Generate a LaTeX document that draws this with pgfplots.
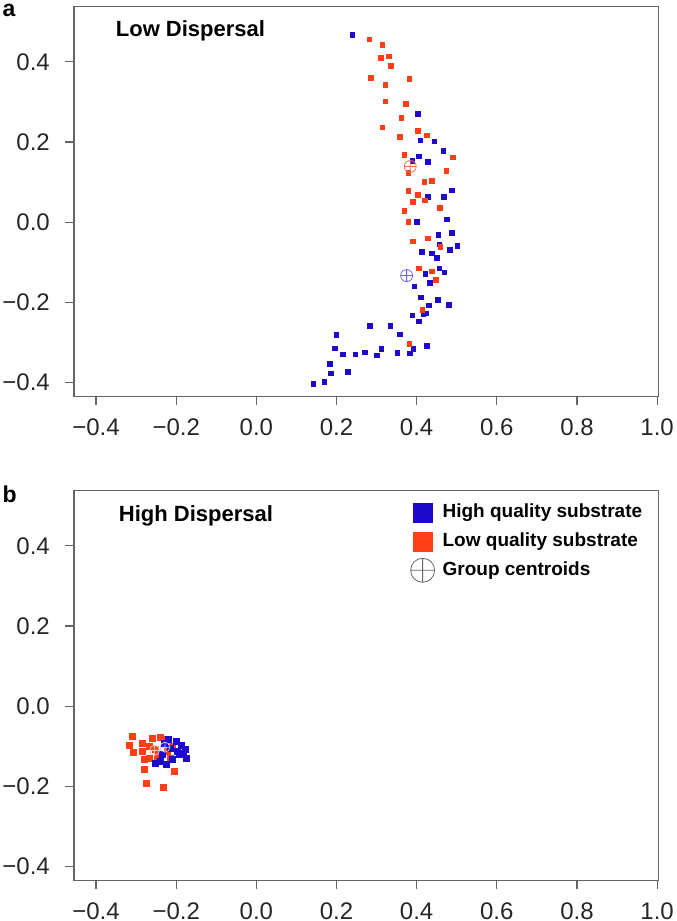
\documentclass[border=0pt]{standalone}
\usepackage{pgfplots}
\pgfplotsset{compat=1.18}
\usepackage{fontspec}
\setmainfont{Liberation Sans}
\definecolor{ptblue}{RGB}{30,10,205}
\definecolor{ptred}{RGB}{255,62,22}
\definecolor{cblue}{RGB}{110,100,235}
\definecolor{cred}{RGB}{255,105,85}
\definecolor{framegray}{RGB}{100,100,100}
\pgfplotsset{
  panel/.style={
    anchor=south west, scale only axis, width=584.3pt, height=390pt,
    xmin=-0.455, xmax=1.003, ymin=-0.435, ymax=0.5375,
    axis line style={draw=framegray, line width=1.3pt},
    tick style={draw=framegray, line width=1.2pt},
    tick align=outside, major tick length=8.5pt,
    xtick pos=bottom, ytick pos=left,
    xtick={-0.4,-0.2,0,0.2,0.4,0.6,0.8,1.0},
    xticklabels={−0.4,−0.2,0.0,0.2,0.4,0.6,0.8,1.0},
    ytick={-0.4,-0.2,0,0.2,0.4},
    yticklabels={−0.4,−0.2,0.0,0.2,0.4},
    tick label style={font=\fontsize{24}{28}\selectfont, text=black!85},
    yticklabel style={inner sep=0pt, xshift=-15.5pt},
    xticklabel style={inner sep=0pt, yshift=-13.5pt},
    clip=false,
  },
  hq/.style={only marks, mark=square*, draw=ptblue, fill=ptblue},
  lq/.style={only marks, mark=square*, draw=ptred, fill=ptred},
}
\begin{document}
\begin{tikzpicture}
\useasboundingbox (0pt,0pt) rectangle (677pt,921pt);
% ---------------- panel a ----------------
\begin{axis}[panel, at={(74pt,524.3pt)}]
\addplot[hq, mark size=2.3pt] coordinates {
(0.239,0.467) (0.403,0.271) (0.409,0.205) (0.444,0.202) (0.466,0.179)
(0.405,0.165) (0.389,0.154) (0.428,0.151) (0.488,0.080) (0.468,0.063)
(0.428,0.063) (0.400,0.002) (0.475,0.008) (0.488,-0.026) (0.454,-0.031)
(0.501,-0.059) (0.456,-0.055) (0.412,-0.073) (0.438,-0.077) (0.450,-0.089)
(0.482,-0.069) (0.456,-0.115) (0.469,-0.125) (0.421,-0.129) (0.433,-0.151)
(0.394,-0.159) (0.410,-0.187) (0.452,-0.193) (0.480,-0.206) (0.430,-0.207)
(0.389,-0.232) (0.416,-0.229) (0.424,-0.227) (0.405,-0.247) (0.334,-0.258)
(0.283,-0.258) (0.358,-0.279) (0.199,-0.280) (0.425,-0.308) (0.391,-0.315)
(0.312,-0.315) (0.196,-0.314) (0.383,-0.327) (0.351,-0.326) (0.301,-0.332)
(0.271,-0.324) (0.247,-0.329) (0.215,-0.329) (0.183,-0.353) (0.186,-0.376)
(0.228,-0.373) (0.169,-0.398) (0.142,-0.402)
};
\addplot[lq, mark size=2.3pt] coordinates {
(0.282,0.456) (0.314,0.443) (0.310,0.410) (0.331,0.414) (0.335,0.391)
(0.285,0.360) (0.381,0.358) (0.322,0.343) (0.322,0.302) (0.373,0.296)
(0.361,0.261) (0.314,0.237) (0.403,0.229) (0.358,0.213) (0.425,0.217)
(0.369,0.168) (0.490,0.162) (0.474,0.128) (0.379,0.124) (0.419,0.101)
(0.438,0.103) (0.379,0.079) (0.403,0.068) (0.420,0.055) (0.390,0.051)
(0.457,0.037) (0.369,0.029) (0.379,0.002) (0.390,-0.047) (0.428,-0.040)
(0.459,-0.061) (0.405,-0.115) (0.438,-0.122) (0.448,-0.144) (0.414,-0.218)
(0.381,-0.303)
};
\addplot[only marks, mark=oplus, mark size=6pt, draw=cred, line width=0.8pt] coordinates {(0.384,0.139)};
\addplot[only marks, mark=oplus, mark size=6pt, draw=cblue, line width=0.8pt] coordinates {(0.375,-0.133)};
\end{axis}
% ---------------- panel b ----------------
\begin{axis}[panel, at={(74pt,40.3pt)},
  legend style={at={(axis cs:0.377,0.519)}, anchor=north west, draw=none, fill=none,
    font=\bfseries\fontsize{19}{22}\selectfont, row sep=5pt,
    nodes={inner sep=1pt, text height=14pt, text depth=4pt}},
  legend cell align=left,
  legend image code/.code={\draw[#1] plot coordinates {(0pt,0pt)}; \path[draw=none, fill=none] (0pt,-12pt) -- (0pt,12pt) (19pt,0pt);}]
\addlegendimage{only marks, mark=square*, mark size=9.5pt, draw=ptblue, fill=ptblue}
\addlegendentry{High quality substrate}
\addlegendimage{only marks, mark=square*, mark size=9.5pt, draw=ptred, fill=ptred}
\addlegendentry{Low quality substrate}
\addlegendimage{only marks, mark=oplus, mark size=12pt, draw=black!60, line width=0.8pt}
\addlegendentry{Group centroids}
\addplot[lq, mark size=3pt, forget plot] coordinates {
(-0.310,-0.075) (-0.317,-0.096) (-0.307,-0.115) (-0.284,-0.091) (-0.284,-0.112)
(-0.279,-0.133) (-0.261,-0.079) (-0.239,-0.076) (-0.230,-0.083) (-0.268,-0.129)
(-0.280,-0.158) (-0.276,-0.191) (-0.233,-0.201) (-0.205,-0.162) (-0.214,-0.129)
(-0.222,-0.112) (-0.252,-0.108) (-0.268,-0.100) (-0.247,-0.125) (-0.211,-0.100)
};
\addplot[hq, mark size=3pt, forget plot] coordinates {
(-0.230,-0.091) (-0.214,-0.104) (-0.200,-0.087) (-0.187,-0.096) (-0.177,-0.108)
(-0.175,-0.129) (-0.193,-0.120) (-0.209,-0.133) (-0.225,-0.145) (-0.241,-0.137)
(-0.252,-0.141) (-0.236,-0.120) (-0.198,-0.112) (-0.182,-0.116) (-0.220,-0.083)
};
\addplot[only marks, mark=oplus, mark size=5pt, draw=red!25, line width=0.8pt, forget plot] coordinates {(-0.254,-0.110)};
\addplot[only marks, mark=oplus, mark size=5pt, draw=blue!25, line width=0.8pt, forget plot] coordinates {(-0.228,-0.102)};
\end{axis}
% panel letters and titles
\node[anchor=base west, inner sep=0pt, font=\bfseries\fontsize{23}{27}\selectfont] at (2.5pt,904.3pt) {a};
\node[anchor=base west, inner sep=0pt, font=\bfseries\fontsize{23}{27}\selectfont] at (2.5pt,418.7pt) {b};
\node[anchor=base west, inner sep=0pt, font=\bfseries\fontsize{22}{26}\selectfont] at (115.7pt,884.6pt) {Low Dispersal};
\node[anchor=base west, inner sep=0pt, font=\bfseries\fontsize{22}{26}\selectfont] at (118.7pt,399pt) {High Dispersal};
\end{tikzpicture}
\end{document}
